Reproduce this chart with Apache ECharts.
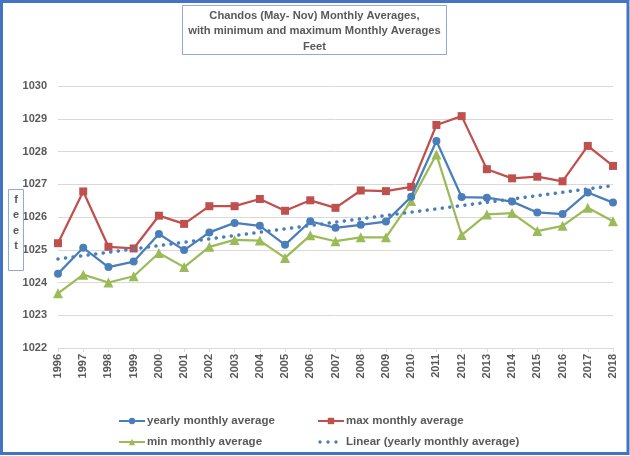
<!DOCTYPE html>
<html>
<head>
<meta charset="utf-8">
<script src="https://cdn.jsdelivr.net/npm/echarts@6/dist/echarts.min.js"></script>
<style>html,body{margin:0;padding:0;background:#fff}#c{width:630px;height:456px}</style>
</head>
<body>
<div id="c"></div>
<script>
var years = ['1996','1997','1998','1999','2000','2001','2002','2003','2004','2005','2006','2007','2008','2009','2010','2011','2012','2013','2014','2015','2016','2017','2018'];
var yearlyAvg = [1024.27,1025.06,1024.47,1024.64,1025.48,1024.99,1025.53,1025.82,1025.73,1025.15,1025.87,1025.67,1025.76,1025.86,1026.62,1028.32,1026.61,1026.59,1026.47,1026.14,1026.09,1026.75,1026.44];
var maxAvg = [1025.20,1026.78,1025.09,1025.04,1026.04,1025.79,1026.33,1026.33,1026.55,1026.19,1026.51,1026.28,1026.81,1026.79,1026.92,1028.81,1029.08,1027.46,1027.18,1027.23,1027.09,1028.17,1027.56];
var minAvg = [1023.67,1024.24,1024.00,1024.19,1024.90,1024.47,1025.09,1025.30,1025.28,1024.75,1025.44,1025.26,1025.38,1025.38,1026.49,1027.91,1025.45,1026.08,1026.12,1025.57,1025.73,1026.28,1025.87];
var trendEnds = [1024.72, 1026.96];
var yTicks = [1022, 1030, 1];
var titleLines = ['Chandos (May- Nov) Monthly Averages,', 'with minimum and maximum Monthly Averages', 'Feet'];

var trendData = years.map(function(y, i){
  if (i === 0) return trendEnds[0];
  if (i === years.length - 1) return trendEnds[1];
  return null;
});

var chart = echarts.init(document.getElementById('c'));
var txt = '#595959';
var font = 'Liberation Sans';
var dotsIcon = 'path://M0,0L0.01,0L0,0.01ZM26,8L25.99,8L26,7.99Z' +
  'M0.3,4a1.7,1.7 0 1,0 3.4,0a1.7,1.7 0 1,0 -3.4,0Z' +
  'M8.3,4a1.7,1.7 0 1,0 3.4,0a1.7,1.7 0 1,0 -3.4,0Z' +
  'M16.3,4a1.7,1.7 0 1,0 3.4,0a1.7,1.7 0 1,0 -3.4,0Z';
var legendText = { color: txt, fontSize: 11.5, fontWeight: 'bold', fontFamily: font, padding: [0, 0, 0, -3] };
chart.setOption({
  animation: false,
  graphic: [
    { type: 'rect', shape: { x: 1.5, y: 1.5, width: 626.5, height: 452 }, style: { fill: null, stroke: '#4472C4', lineWidth: 3 }, silent: true },
    { type: 'rect', shape: { x: 182.5, y: 5.5, width: 264, height: 49 }, style: { fill: '#fff', stroke: '#8FAADC', lineWidth: 1 }, z: 10 },
    { type: 'text', x: 314.5, y: 8, z: 11, style: { text: titleLines.join('\n'), fill: txt, font: 'bold 11.2px ' + font, align: 'center', lineHeight: 15.5 } },
    { type: 'rect', shape: { x: 8.5, y: 189.5, width: 15, height: 81 }, style: { fill: '#fff', stroke: '#8FAADC', lineWidth: 1 }, z: 10 },
    { type: 'text', x: 16, y: 192, z: 11, style: { text: 'f\ne\ne\nt', fill: txt, font: 'bold 11px ' + font, align: 'center', lineHeight: 15.5 } }
  ],
  legend: [
    { left: 113, top: 410, orient: 'vertical', itemGap: 9, itemWidth: 26, itemHeight: 8,
      data: ['yearly monthly average', 'min monthly average'],
      textStyle: legendText },
    { left: 312, top: 410, orient: 'vertical', itemGap: 9, itemWidth: 26, itemHeight: 8,
      data: ['max monthly average', { name: 'Linear (yearly monthly average)', icon: dotsIcon }],
      textStyle: legendText }
  ],
  grid: { left: 58, right: 17, top: 86, bottom: 108, containLabel: false },
  xAxis: {
    type: 'category', data: years, boundaryGap: false,
    axisLine: { lineStyle: { color: '#D9D9D9', width: 1 } },
    axisTick: { show: true, length: 4, lineStyle: { color: '#D9D9D9' } },
    axisLabel: { rotate: 90, color: txt, fontSize: 11, fontWeight: 'bold', fontFamily: font, margin: 6 }
  },
  yAxis: {
    type: 'value', min: yTicks[0], max: yTicks[1], interval: yTicks[2],
    axisLine: { show: false }, axisTick: { show: false },
    splitLine: { lineStyle: { color: '#D9D9D9', width: 1 } },
    axisLabel: { color: txt, fontSize: 11, fontWeight: 'bold', fontFamily: font, margin: 11,
      formatter: function(v){ return String(v); } }
  },
  series: [
    { name: 'yearly monthly average', type: 'line', data: yearlyAvg, symbol: 'circle', symbolSize: 8,
      itemStyle: { color: '#4A7EBB' }, lineStyle: { color: '#4A7EBB', width: 2.25 }, z: 4 },
    { name: 'max monthly average', type: 'line', data: maxAvg, symbol: 'rect', symbolSize: 8,
      itemStyle: { color: '#C0504D' }, lineStyle: { color: '#C0504D', width: 2.25 }, z: 3 },
    { name: 'min monthly average', type: 'line', data: minAvg, symbol: 'triangle', symbolSize: 10,
      itemStyle: { color: '#9BBB59' }, lineStyle: { color: '#9BBB59', width: 2.25 }, z: 3 },
    { name: 'Linear (yearly monthly average)', type: 'line', data: trendData, connectNulls: true, symbol: 'none',
      itemStyle: { color: '#4A7EBB' },
      lineStyle: { color: '#4A7EBB', width: 3.5, type: [0.1, 7.5], cap: 'round' }, z: 5 }
  ]
});
</script>
</body>
</html>
